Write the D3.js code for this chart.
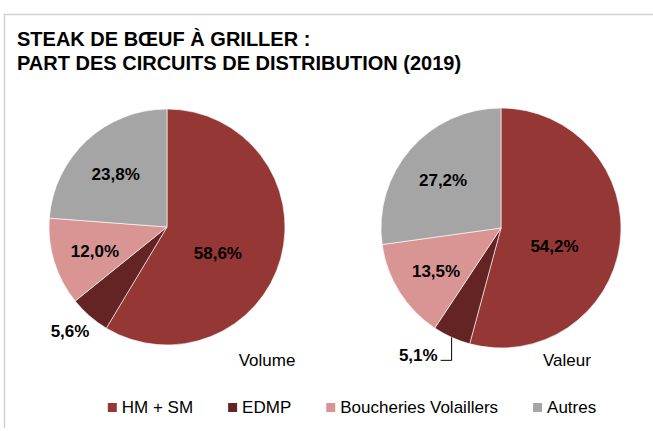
<!DOCTYPE html>
<html>
<head>
<meta charset="utf-8">
<script src="https://cdn.jsdelivr.net/npm/d3@7"></script>
<style>
  html, body { margin: 0; padding: 0; background: #fff; }
  svg text { font-family: "Liberation Sans", Arial, sans-serif; }
</style>
</head>
<body>
<svg id="chart" width="653" height="431"></svg>
<script>
// data
var categories = ["HM + SM", "EDMP", "Boucheries Volaillers", "Autres"];
var volumeValues = [58.6, 5.6, 12.0, 23.8];
var valeurValues = [54.2, 5.1, 13.5, 27.2];
var chartNames = ["Volume", "Valeur"];
var titleLines = ["STEAK DE BŒUF À GRILLER :", "PART DES CIRCUITS DE DISTRIBUTION (2019)"];

var colors = d3.scaleOrdinal()
    .domain(categories)
    .range(["#953735", "#632423", "#d99594", "#a5a5a5"]);

var fr = d3.formatLocale({decimal: ",", thousands: " ", grouping: [3], currency: ["", " €"]});
var fmt = fr.format(".1f");

var svg = d3.select("#chart");

// frame (top + left lines only)
svg.append("line").attr("x1", 4).attr("x2", 653).attr("y1", 14.5).attr("y2", 14.5)
   .attr("stroke", "#d0d0d0").attr("stroke-width", 1.5);
svg.append("line").attr("x1", 4.5).attr("x2", 4.5).attr("y1", 14).attr("y2", 428)
   .attr("stroke", "#d0d0d0").attr("stroke-width", 1.5);

// title
svg.append("g").selectAll("text")
   .data(titleLines)
   .enter().append("text")
   .attr("x", 17)
   .attr("y", function(d, i) { return 46 + i * 24; })
   .attr("font-size", 20)
   .attr("font-weight", "bold")
   .attr("fill", "#000")
   .text(function(d) { return d; });

var pies = [
  {name: chartNames[0], values: volumeValues, cx: 167, cy: 227, r: 118, nameX: 267, nameY: 366, leader: false},
  {name: chartNames[1], values: valeurValues, cx: 501, cy: 228, r: 120, nameX: 567, nameY: 366, leader: true}
];

var pie = d3.pie().sort(null).value(function(d) { return d.value; });

pies.forEach(function(p) {
    var data = categories.map(function(c, i) { return {cat: c, value: p.values[i]}; });
    var arcs = pie(data);
    var arc = d3.arc().innerRadius(0).outerRadius(p.r);

    var g = svg.append("g")
        .attr("transform", "translate(" + p.cx + "," + p.cy + ")");

    g.selectAll(".slice")
     .data(arcs)
     .enter().append("path")
     .attr("class", "slice")
     .attr("d", arc)
     .attr("fill", function(d) { return colors(d.data.cat); })
     .attr("stroke", "#fff")
     .attr("stroke-width", 0.6);

    arcs.forEach(function(d) {
        var mid = (d.startAngle + d.endAngle) / 2;
        var share = d.data.value;
        var txt = fmt(share) + "%";
        var sx = Math.sin(mid), sy = -Math.cos(mid);
        if (share < 8) {
            if (p.leader) {
                var ex = sx * p.r, ey = sy * p.r;
                var ly = sy * p.r * 1.21;
                var lx = ex - 11;
                g.append("path")
                 .attr("d", "M" + ex + "," + ey + "V" + ly + "H" + lx)
                 .attr("fill", "none").attr("stroke", "#000").attr("stroke-width", 1);
                g.append("text")
                 .attr("x", lx - 3).attr("y", ly + 1)
                 .attr("text-anchor", "end")
                 .attr("font-size", 17).attr("font-weight", "bold")
                 .text(txt);
            } else {
                g.append("text")
                 .attr("x", sx * p.r * 1.2 - 4).attr("y", sy * p.r * 1.2 - 3)
                 .attr("dy", "0.35em")
                 .attr("text-anchor", "middle")
                 .attr("font-size", 17).attr("font-weight", "bold")
                 .text(txt);
            }
        } else {
            var k = share > 40 ? 0.5 : 0.64;
            var nudge = share > 40 ? 10 : 2;
            g.append("text")
             .attr("x", sx * p.r * k - (share > 40 ? 6 : 0)).attr("y", sy * p.r * k + nudge)
             .attr("dy", "0.35em")
             .attr("text-anchor", "middle")
             .attr("font-size", 17).attr("font-weight", "bold")
             .text(txt);
        }
    });

    svg.append("text")
       .attr("x", p.nameX).attr("y", p.nameY)
       .attr("text-anchor", "middle")
       .attr("font-size", 17)
       .text(p.name);
});

// legend
var legend = svg.append("g");
var items = legend.selectAll(".item")
    .data(categories)
    .enter().append("g").attr("class", "item");
items.append("rect")
    .attr("width", 9).attr("height", 9)
    .attr("y", -10)
    .attr("fill", function(d) { return colors(d); });
items.append("text")
    .attr("x", 14)
    .attr("font-size", 17)
    .text(function(d) { return d; });

var gap = 35;
var xpos = 0;
items.each(function() {
    var w = this.getBBox().width;
    d3.select(this).attr("transform", "translate(" + xpos + ",0)");
    xpos += w + gap;
});
var total = xpos - gap;
legend.attr("transform", "translate(" + (352 - total / 2) + ",413)");
</script>
</body>
</html>
